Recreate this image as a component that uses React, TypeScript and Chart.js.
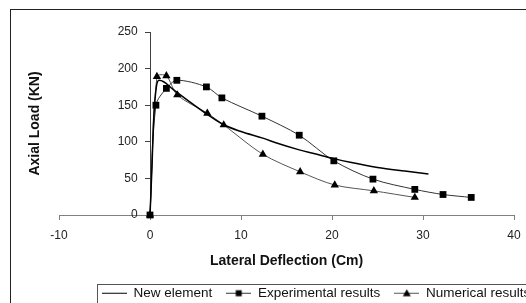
import React, { useEffect, useRef } from "react";
import { Chart, registerables } from "chart.js";
Chart.register(...registerables);

const seriesNames = ["New element", "Experimental results", "Numerical results"];
const newElementX = [0, 0.2, 0.4, 0.7, 1.0, 1.5, 2.5, 4, 6, 8, 10, 12.4, 14, 16.4, 18, 20.2, 22, 25, 28, 30.6];
const newElementY = [0, 60, 130, 175, 184, 182, 172, 158, 140, 124, 114, 105, 98, 89, 84, 77, 72, 65, 60, 56];
const experimentalX = [0, 0.65, 1.8, 2.95, 6.2, 7.9, 12.3, 16.4, 20.2, 24.5, 29.1, 32.2, 35.3];
const experimentalY = [0, 150, 173, 184, 175, 160, 135, 109, 74, 49, 35, 28, 24];
const numericalX = [0, 0.76, 1.8, 3.0, 6.3, 8.1, 12.4, 16.5, 20.3, 24.6, 29.1];
const numericalY = [0, 189, 190, 164, 139, 123, 83, 59, 41, 33, 24];
const xMin = -10;
const xMax = 40;
const xStep = 10;
const yMin = 0;
const yMax = 250;
const yStep = 50;
const xTitle = "Lateral Deflection (Cm)";
const yTitle = "Axial Load (KN)";

const W = 632;
const H = 310;

function pts(xs: number[], ys: number[]) {
  return xs.map((x, i) => ({ x, y: ys[i] }));
}

function makeIcon(color: string, marker: string | null) {
  const c = document.createElement("canvas");
  c.width = 25;
  c.height = 11;
  const ctx = c.getContext("2d")!;
  ctx.strokeStyle = color;
  ctx.lineWidth = 1;
  ctx.beginPath();
  ctx.moveTo(0, 5.5);
  ctx.lineTo(25, 5.5);
  ctx.stroke();
  ctx.fillStyle = "#000";
  if (marker === "rect") {
    ctx.fillRect(9.5, 2.5, 6, 6);
  } else if (marker === "triangle") {
    ctx.beginPath();
    ctx.moveTo(12.5, 1.5);
    ctx.lineTo(16.5, 8.5);
    ctx.lineTo(8.5, 8.5);
    ctx.closePath();
    ctx.fill();
  }
  return c;
}

const framePlugin = {
  id: "frame",
  afterDraw(chart: any) {
    const ctx = chart.ctx;
    ctx.save();
    ctx.strokeStyle = "#222";
    ctx.lineWidth = 1;
    ctx.strokeRect(10.5, 9.5, chart.width + 20, chart.height + 20);
    const lg = chart.legend;
    if (lg && lg.legendHitBoxes && lg.legendHitBoxes.length) {
      const hb = lg.legendHitBoxes[0];
      ctx.strokeStyle = "#555";
      ctx.strokeRect(Math.round(hb.left) - 4.5, Math.round(hb.top) - 2.5, chart.width, 60);
    }
    ctx.restore();
  },
};

export default function App() {
  const ref = useRef<HTMLCanvasElement | null>(null);
  useEffect(() => {
    document.body.style.margin = "0";
    document.body.style.overflow = "hidden";
    Chart.defaults.font.family = "'Liberation Sans', Arial, sans-serif";
    Chart.defaults.color = "#111";
    const icons = [makeIcon("#000", null), makeIcon("#333", "rect"), makeIcon("#555", "triangle")];
    const chart = new Chart(ref.current!, {
      type: "line",
      data: {
        datasets: [
          {
            label: seriesNames[0],
            data: pts(newElementX, newElementY),
            borderColor: "#000",
            borderWidth: 1.5,
            pointRadius: 0,
            cubicInterpolationMode: "monotone",
            clip: false,
          },
          {
            label: seriesNames[1],
            data: pts(experimentalX, experimentalY),
            borderColor: "#333",
            borderWidth: 1,
            pointStyle: "rect",
            pointRadius: 4.8,
            pointBackgroundColor: "#000",
            pointBorderColor: "#000",
            pointBorderWidth: 0,
            tension: 0.3,
            clip: false,
          },
          {
            label: seriesNames[2],
            data: pts(numericalX, numericalY),
            borderColor: "#555",
            borderWidth: 1,
            pointStyle: "triangle",
            pointRadius: 4.8,
            pointBackgroundColor: "#000",
            pointBorderColor: "#000",
            pointBorderWidth: 0,
            tension: 0.3,
            clip: false,
          },
        ],
      } as any,
      options: {
        responsive: false,
        animation: false,
        layout: { padding: { left: 12, right: 12, top: 32, bottom: 0 } },
        plugins: {
          tooltip: { enabled: false },
          legend: {
            position: "bottom",
            align: "center",
            labels: {
              usePointStyle: true,
              pointStyleWidth: 25,
              boxHeight: 11,
              padding: 14,
              color: "#111",
              font: { size: 13.5 },
              generateLabels: (ch: any) => {
                const items = Chart.defaults.plugins.legend.labels.generateLabels(ch);
                return items.map((it: any, i: number) => ({ ...it, pointStyle: icons[i], hidden: false }));
              },
            },
          },
        },
        scales: {
          x: {
            type: "linear",
            min: xMin,
            max: xMax,
            ticks: { stepSize: xStep, padding: 8, color: "#222", font: { size: 12 } },
            grid: { display: true, drawOnChartArea: false, drawTicks: true, tickLength: 5, color: "#808080" },
            border: { display: true, color: "#808080", width: 1 },
            title: { display: true, text: xTitle, color: "#111", font: { size: 14, weight: "bold" }, padding: { top: 2.2, bottom: 3.1 } },
          },
          y: {
            type: "linear",
            axis: "y",
            position: { x: 0 },
            min: yMin,
            max: yMax,
            ticks: { stepSize: yStep, display: false },
            grid: { display: true, drawOnChartArea: false, drawTicks: true, tickLength: 5, color: "#404040" },
            border: { display: true, color: "#404040", width: 1 },
          },
          yLabels: {
            type: "linear",
            axis: "y",
            position: { x: -1.35 },
            min: yMin,
            max: yMax,
            ticks: { stepSize: yStep, color: "#222", font: { size: 12 } },
            grid: { display: false, drawTicks: false },
            border: { display: false },
          },
          yTitle: {
            type: "linear",
            axis: "y",
            position: "left",
            ticks: { display: false },
            grid: { display: false, drawTicks: false },
            border: { display: false },
            title: { display: true, text: yTitle, color: "#111", font: { size: 14, weight: "bold" }, padding: { top: 15, bottom: 15.2 } },
          },
          rightPad: {
            type: "linear",
            axis: "y",
            position: "right",
            ticks: { display: false },
            grid: { display: false, drawTicks: false },
            border: { display: false },
            afterFit: (s: any) => {
              s.width = W - 12 - 514;
            },
          },
        },
      } as any,
      plugins: [framePlugin],
    });
    return () => chart.destroy();
  }, []);
  return (
    <div style={{ width: 526, height: 303, overflow: "hidden" }}>
      <canvas ref={ref} width={W} height={H} style={{ display: "block" }} />
    </div>
  );
}
